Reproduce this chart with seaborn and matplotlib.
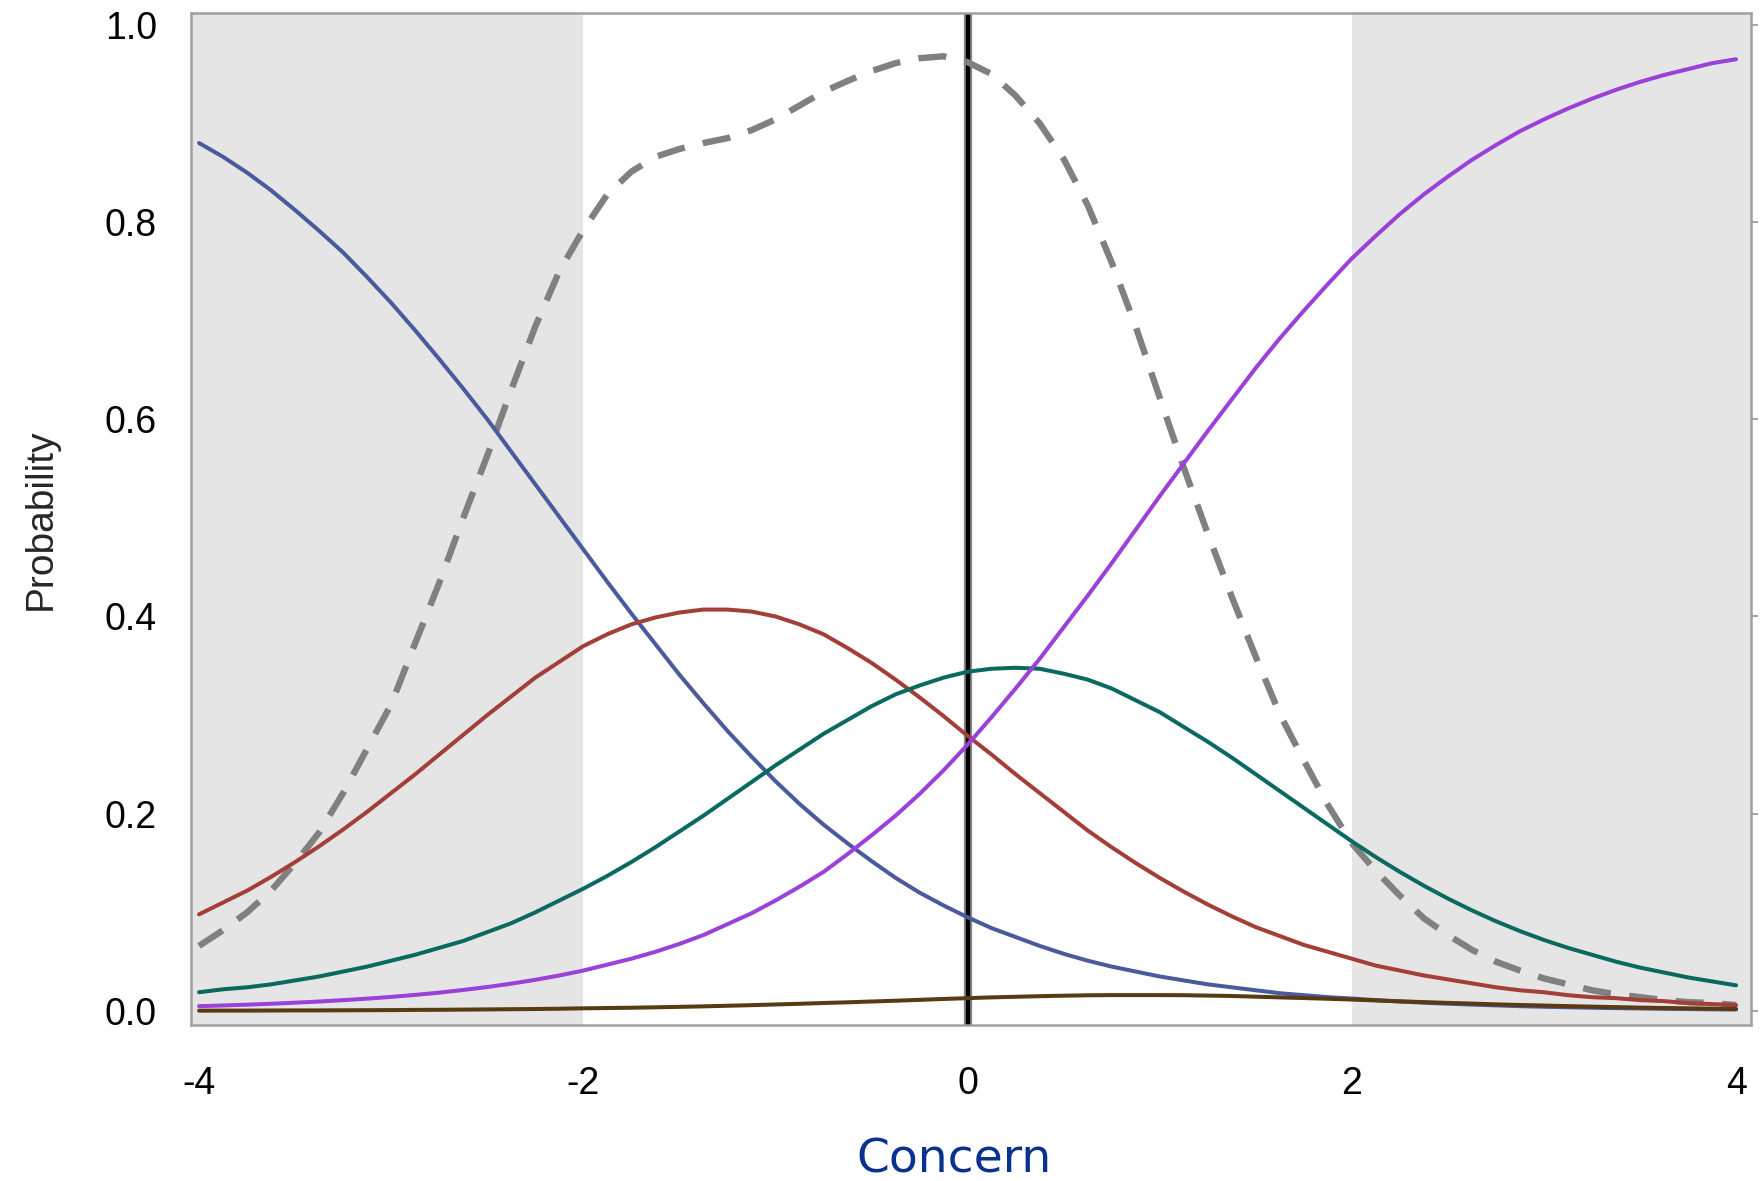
import pandas as pd
import seaborn as sns
import matplotlib.pyplot as plt

# Category response curves
theta = [-4.0, -3.875, -3.75, -3.625, -3.5, -3.375, -3.25, -3.125,
         -3.0, -2.875, -2.75, -2.625, -2.5, -2.375, -2.25, -2.125,
         -2.0, -1.875, -1.75, -1.625, -1.5, -1.375, -1.25, -1.125,
         -1.0, -0.875, -0.75, -0.625, -0.5, -0.375, -0.25, -0.125,
         0.0, 0.125, 0.25, 0.375, 0.5, 0.625, 0.75, 0.875,
         1.0, 1.125, 1.25, 1.375, 1.5, 1.625, 1.75, 1.875,
         2.0, 2.125, 2.25, 2.375, 2.5, 2.625, 2.75, 2.875,
         3.0, 3.125, 3.25, 3.375, 3.5, 3.625, 3.75, 3.875,
         4.0]

cat1 = [0.880, 0.866, 0.850, 0.832, 0.812, 0.791, 0.769, 0.744,
        0.718, 0.690, 0.661, 0.631, 0.600, 0.567, 0.534, 0.501,
        0.468, 0.435, 0.403, 0.372, 0.341, 0.312, 0.284, 0.258,
        0.233, 0.210, 0.189, 0.170, 0.152, 0.135, 0.120, 0.107,
        0.095, 0.084, 0.075, 0.066, 0.058, 0.051, 0.045, 0.040,
        0.035, 0.031, 0.027, 0.024, 0.021, 0.018, 0.016, 0.014,
        0.0126, 0.0110, 0.0096, 0.0084, 0.0074, 0.0065, 0.0057, 0.0049,
        0.0043, 0.0038, 0.0033, 0.0029, 0.0026, 0.0022, 0.0020, 0.0017,
        0.0015]
cat2 = [0.098, 0.110, 0.122, 0.136, 0.151, 0.167, 0.184, 0.202,
        0.221, 0.240, 0.260, 0.280, 0.300, 0.319, 0.338, 0.354,
        0.370, 0.382, 0.392, 0.399, 0.404, 0.407, 0.407, 0.405,
        0.400, 0.392, 0.382, 0.368, 0.353, 0.336, 0.318, 0.299,
        0.279, 0.260, 0.240, 0.221, 0.202, 0.183, 0.166, 0.150,
        0.135, 0.121, 0.108, 0.096, 0.085, 0.076, 0.067, 0.060,
        0.053, 0.046, 0.041, 0.036, 0.032, 0.028, 0.024, 0.021,
        0.019, 0.016, 0.014, 0.013, 0.011, 0.010, 0.008, 0.007,
        0.006]
cat3 = [0.019, 0.022, 0.024, 0.027, 0.031, 0.035, 0.040, 0.045,
        0.051, 0.057, 0.064, 0.071, 0.080, 0.089, 0.100, 0.112,
        0.124, 0.137, 0.151, 0.166, 0.182, 0.198, 0.215, 0.232,
        0.249, 0.265, 0.281, 0.295, 0.309, 0.321, 0.330, 0.338,
        0.344, 0.347, 0.348, 0.347, 0.342, 0.336, 0.327, 0.315,
        0.303, 0.288, 0.273, 0.257, 0.240, 0.223, 0.206, 0.189,
        0.172, 0.156, 0.141, 0.127, 0.114, 0.102, 0.091, 0.081,
        0.072, 0.064, 0.057, 0.050, 0.044, 0.039, 0.034, 0.030,
        0.026]
cat4 = [0.0003, 0.0004, 0.0004, 0.0005, 0.0006, 0.0006, 0.0007, 0.0008,
        0.0009, 0.0011, 0.0012, 0.0014, 0.0016, 0.0018, 0.0020, 0.0023,
        0.0027, 0.0030, 0.0033, 0.0037, 0.0042, 0.0047, 0.0053, 0.0059,
        0.0066, 0.0073, 0.0081, 0.0088, 0.0096, 0.0104, 0.0113, 0.0122,
        0.0130, 0.0138, 0.0144, 0.0150, 0.0155, 0.0159, 0.0161, 0.0161,
        0.0161, 0.0160, 0.0156, 0.0152, 0.0145, 0.0138, 0.0131, 0.0124,
        0.0116, 0.0107, 0.0098, 0.0090, 0.0082, 0.0075, 0.0067, 0.0061,
        0.0055, 0.0049, 0.0044, 0.0039, 0.0034, 0.0030, 0.0027, 0.0024,
        0.0021]
cat5 = [0.0049, 0.0056, 0.0064, 0.0073, 0.0084, 0.0096, 0.0110, 0.0125,
        0.0143, 0.0163, 0.0186, 0.0213, 0.0243, 0.0277, 0.0316, 0.0360,
        0.041, 0.047, 0.053, 0.060, 0.068, 0.077, 0.088, 0.099,
        0.112, 0.126, 0.141, 0.159, 0.178, 0.198, 0.220, 0.244,
        0.270, 0.298, 0.327, 0.357, 0.389, 0.421, 0.454, 0.488,
        0.522, 0.555, 0.588, 0.620, 0.652, 0.682, 0.710, 0.737,
        0.763, 0.786, 0.808, 0.828, 0.846, 0.863, 0.878, 0.892,
        0.904, 0.915, 0.925, 0.934, 0.942, 0.949, 0.955, 0.961,
        0.965]

# dashed gray curve
dash_vals = [0.066, 0.082, 0.100, 0.122, 0.150, 0.181, 0.221, 0.266,
             0.311, 0.373, 0.434, 0.500, 0.563, 0.630, 0.694, 0.750,
             0.792, 0.828, 0.851, 0.866, 0.874, 0.880, 0.885, 0.893,
             0.904, 0.918, 0.932, 0.943, 0.953, 0.961, 0.966, 0.968,
             0.962, 0.950, 0.928, 0.900, 0.864, 0.817, 0.759, 0.694,
             0.622, 0.551, 0.484, 0.420, 0.359, 0.301, 0.254, 0.209,
             0.170, 0.142, 0.117, 0.094, 0.077, 0.062, 0.050, 0.041,
             0.033, 0.027, 0.021, 0.017, 0.014, 0.011, 0.009, 0.008,
             0.006]

categories = ['1', '2', '3', '4', '5']
colors = ['#4a5a9c', '#a33f38', '#0b6a5f', '#5a3a12', '#9b40d8']

x_ticks = [-4, -2, 0, 2, 4]
x_tick_labels = ['-4', '-2', '0', '2', '4']
y_ticks = [0.0, 0.2, 0.4, 0.6, 0.8, 1.0]
y_tick_labels = ['0.0', '0.2', '0.4', '0.6', '0.8', '1.0']

curves = dict(zip(categories, [cat1, cat2, cat3, cat4, cat5]))
df = pd.concat([pd.DataFrame({'theta': theta, 'prob': v, 'category': k})
                for k, v in curves.items()], ignore_index=True)

sns.set_style('white')
plt.rcParams['font.family'] = ['Liberation Sans', 'DejaVu Sans']

fig = plt.figure(figsize=(17.62, 11.81), dpi=100)
ax = fig.add_axes([0.1084, 0.1321, 0.8854, 0.8565])

xmin, xmax = -4.042, 4.078
ax.axvspan(xmin, -2, color='#e5e5e5', lw=0, zorder=0)
ax.axvspan(2, xmax, color='#e5e5e5', lw=0, zorder=0)

# reference line at 0
ax.axvline(0, color='#8a8a8a', lw=6.0, zorder=1)
ax.axvline(0, color='black', lw=3.2, zorder=1.1)

sns.lineplot(x=theta, y=dash_vals, color='#808080', lw=4.6, ax=ax, zorder=2)
ax.lines[-1].set_dashes([4.4, 2.9])

sns.lineplot(data=df, x='theta', y='prob', hue='category', hue_order=categories,
             palette=dict(zip(categories, colors)), lw=2.9, ax=ax, legend=False, zorder=3)

ax.set_xlim(xmin, xmax)
ax.set_ylim(-0.0142, 1.0114)
ax.set_xticks(x_ticks)
ax.set_xticklabels(x_tick_labels)
ax.set_yticks(y_ticks)
ax.set_yticklabels(y_tick_labels)
ax.tick_params(axis='both', direction='out', length=13.5, width=1.5,
               color='#a3a7ab', labelsize=27, labelcolor='black')
ax.tick_params(axis='x', pad=16)
ax.tick_params(axis='y', pad=11)

# short ticks on the right side
ax_r = ax.secondary_yaxis('right')
ax_r.set_yticks(y_ticks)
ax_r.tick_params(direction='out', length=5, width=1.5, color='#a3a7ab', labelright=False)
ax_r.spines['right'].set_visible(False)

for s in ax.spines.values():
    s.set_color('#9da1a5')
    s.set_linewidth(1.8)
    s.set_zorder(5)

ax.set_ylabel('Probability', fontsize=28, va='baseline')
ax.yaxis.set_label_coords(-0.0897, 0.5)
ax.set_xlabel('Concern', fontsize=34, color='#0b318f', family='DejaVu Sans', va='baseline')
ax.xaxis.set_label_coords(0.489, -0.1463)

fig.savefig('out.png', dpi=100)
